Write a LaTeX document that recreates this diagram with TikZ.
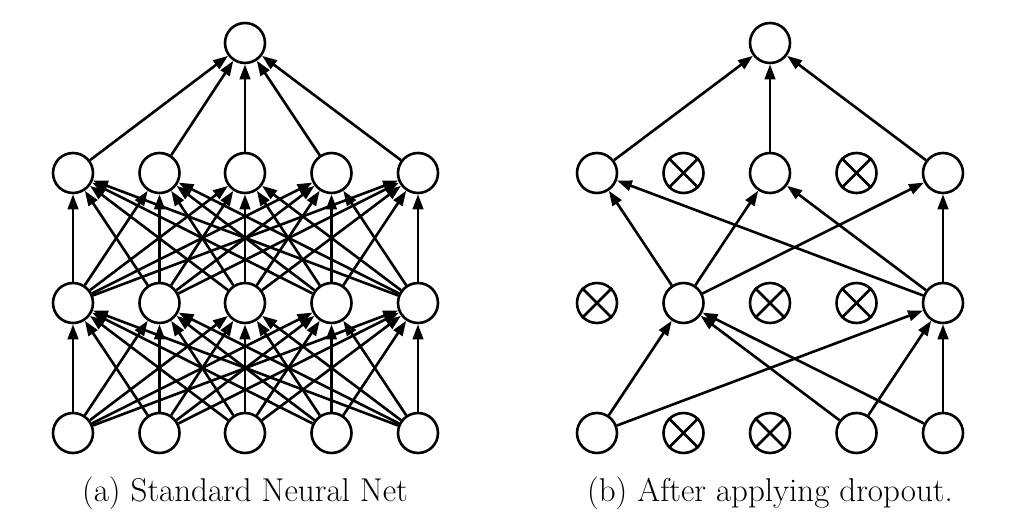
\documentclass[tikz,border=0pt]{standalone}
\usepackage{fontspec}
\setmainfont{Latin Modern Roman}
\usetikzlibrary{arrows.meta}
\begin{document}
\begin{tikzpicture}[x=1pt,y=-1pt,
  neuron/.style={circle,draw,line width=2.6pt,minimum size=40pt,inner sep=0pt,fill=white},
  conn/.style={line width=2.6pt,-{Triangle[length=15pt,width=10.5pt]}},
  xline/.style={line width=2.6pt},
  captxt/.style={font=\fontsize{33}{40}\selectfont,anchor=base,inner sep=0pt}]
\useasboundingbox (0,0) rectangle (1012,521);
% ---------- left network ----------
\foreach \i/\x in {1/73,2/159.5,3/245,4/331.5,5/418} {
  \node[neuron] (La\i) at (\x,433) {};
  \node[neuron] (Lh\i) at (\x,303) {};
  \node[neuron] (Lg\i) at (\x,173) {};
}
\node[neuron] (Lt) at (245,43) {};
\foreach \i in {1,...,5} {
  \foreach \j in {1,...,5} {
    \draw[conn] (La\i) -- (Lh\j);
    \draw[conn] (Lh\i) -- (Lg\j);
  }
  \draw[conn] (Lg\i) -- (Lt);
}
% ---------- right network ----------
\foreach \i/\x in {1/597,2/683.5,3/770,4/856.5,5/943} {
  \node[neuron] (Ra\i) at (\x,433) {};
  \node[neuron] (Rh\i) at (\x,303) {};
  \node[neuron] (Rg\i) at (\x,173) {};
}
\node[neuron] (Rt) at (770,43) {};
\foreach \n in {Ra2,Ra3,Rh1,Rh3,Rh4,Rg2,Rg4} {
  \draw[xline] (\n.north west) -- (\n.south east);
  \draw[xline] (\n.north east) -- (\n.south west);
}
\foreach \i in {1,4,5} {
  \foreach \j in {2,5} {
    \draw[conn] (Ra\i) -- (Rh\j);
  }
}
\foreach \i in {2,5} {
  \foreach \j in {1,3,5} {
    \draw[conn] (Rh\i) -- (Rg\j);
  }
}
\foreach \j in {1,3,5} {
  \draw[conn] (Rg\j) -- (Rt);
}
% ---------- captions ----------
\node[captxt] (capa) at (245,501) {(a) Standard Neural Net};
\node[captxt] (capb) at (770,501) {(b) After applying dropout.};
\end{tikzpicture}
\end{document}
